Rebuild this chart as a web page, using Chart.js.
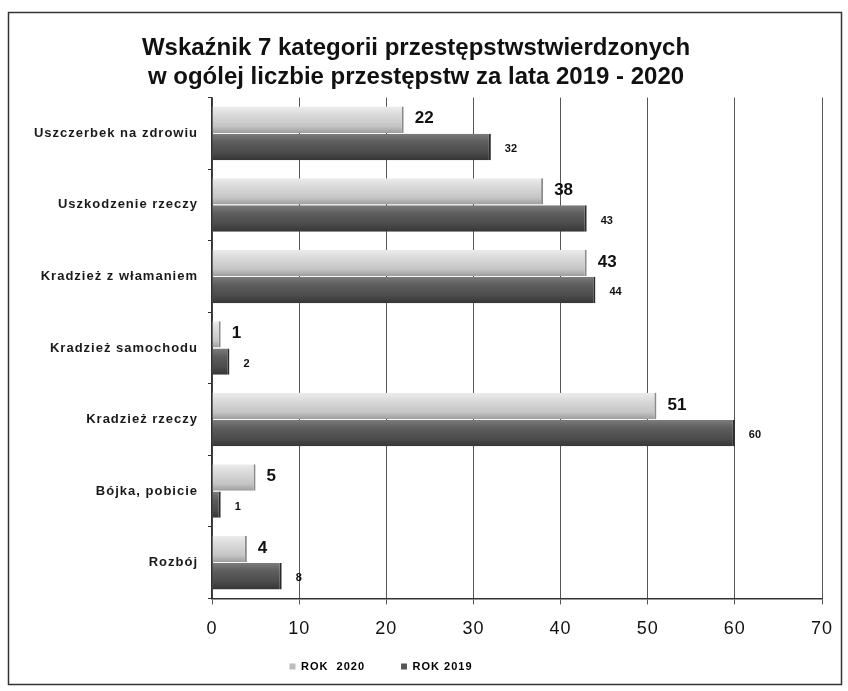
<!DOCTYPE html>
<html lang="pl">
<head>
<meta charset="utf-8">
<title>Wskaźnik 7 kategorii przestępstw</title>
<script src="https://cdn.jsdelivr.net/npm/chart.js@4.4.1/dist/chart.umd.min.js"></script>
<style>
  html, body { margin: 0; padding: 0; background: #ffffff; }
  #wrap { width: 848px; height: 691px; }
</style>
</head>
<body>
<div id="wrap"><canvas id="crimeChart" width="848" height="691"></canvas></div>
<script>
// Data
const categories = [
  "Uszczerbek na zdrowiu",
  "Uszkodzenie rzeczy",
  "Kradzież z włamaniem",
  "Kradzież samochodu",
  "Kradzież rzeczy",
  "Bójka, pobicie",
  "Rozbój"
];
const rok2020 = [22, 38, 43, 1, 51, 5, 4];
const rok2019 = [32, 43, 44, 2, 60, 1, 8];
const xTicks = [0, 10, 20, 30, 40, 50, 60, 70];
const seriesNames = ["ROK  2020", "ROK 2019"];

const sans = "'Liberation Sans', Arial, sans-serif";

const catPct = 0.76;
const barPct = 0.97;

// shaded "cylinder" look for each bar, worked out from the y scale
function barGradient(context, stops) {
  const chart = context.chart;
  const yScale = chart.scales.y;
  if (!yScale || yScale.bottom === undefined) return stops[1][1];
  const catWidth = (yScale.bottom - yScale.top) / categories.length;
  const groupW = catWidth * catPct;
  const slot = groupW / 2;
  const center = yScale.getPixelForValue(context.dataIndex) - groupW / 2 + (context.datasetIndex + 0.5) * slot;
  const half = slot * barPct / 2;
  const g = chart.ctx.createLinearGradient(0, center - half, 0, center + half);
  stops.forEach(s => g.addColorStop(s[0], s[1]));
  return g;
}

const lightStops = [[0, "#ececec"], [0.35, "#d8d8d8"], [0.75, "#c4c4c4"], [1, "#9c9c9c"]];
const darkStops = [[0, "#7c7c7c"], [0.3, "#5e5e5e"], [0.7, "#4c4c4c"], [1, "#353535"]];

// the scan has loosely spaced labels; title keeps normal spacing
const spacing = {
  id: 'spacing',
  beforeUpdate(chart) { chart.ctx.letterSpacing = "1px"; },
  beforeDraw(chart) {
    chart.ctx.letterSpacing = "1px";
    const tb = chart.titleBlock;
    if (tb && !tb._patched) {
      const orig = tb.draw.bind(tb);
      tb.draw = function () {
        const c = chart.ctx;
        const prev = c.letterSpacing;
        c.letterSpacing = "0px";
        orig();
        c.letterSpacing = prev;
      };
      tb._patched = true;
    }
  }
};

// value labels at the bar ends (2020 large, 2019 small)
const valueLabels = {
  id: 'valueLabels',
  afterDatasetsDraw(chart) {
    const ctx = chart.ctx;
    ctx.save();
    ctx.letterSpacing = "0px";
    ctx.fillStyle = "#111";
    ctx.textBaseline = "middle";
    ctx.textAlign = "left";
    chart.data.datasets.forEach((ds, i) => {
      const meta = chart.getDatasetMeta(i);
      meta.data.forEach((bar, j) => {
        if (i === 0) {
          ctx.font = "bold 17px " + sans;
          ctx.fillText(ds.data[j], bar.x + 11, bar.y - 1);
        } else {
          ctx.font = "bold 11px " + sans;
          ctx.fillText(ds.data[j], bar.x + 14, bar.y + 2);
        }
      });
    });
    ctx.restore();
  }
};

// thin frame round the whole chart, as in the scan
const frame = {
  id: 'frame',
  afterDraw(chart) {
    const ctx = chart.ctx;
    ctx.save();
    ctx.strokeStyle = "#333";
    ctx.lineWidth = 1.5;
    ctx.strokeRect(8.5, 12.5, 833, 672);
    ctx.restore();
  }
};

// legend sits left of centre and a bit higher in the original
const legendShift = {
  id: 'legendShift',
  afterLayout(chart) {
    const lg = chart.legend;
    lg.left -= 35;
    lg.right -= 35;
    lg.top -= 29;
    lg.bottom -= 29;
  }
};

const ctx = document.getElementById('crimeChart').getContext('2d');
const crimeChart = new Chart(ctx, {
  type: 'bar',
  data: {
    labels: categories,
    datasets: [{
      label: seriesNames[0],
      data: rok2020,
      backgroundColor: c => barGradient(c, lightStops),
      borderColor: "#8a8a8a",
      borderWidth: { right: 2 },
      borderSkipped: false,
      categoryPercentage: catPct,
      barPercentage: barPct
    }, {
      label: seriesNames[1],
      data: rok2019,
      backgroundColor: c => barGradient(c, darkStops),
      borderColor: "#2a2a2a",
      borderWidth: { right: 2 },
      borderSkipped: false,
      categoryPercentage: catPct,
      barPercentage: barPct
    }]
  },
  options: {
    indexAxis: 'y',
    responsive: false,
    animation: false,
    layout: { padding: { left: 10, right: 26, top: 22, bottom: -20 } },
    scales: {
      x: {
        min: xTicks[0],
        max: xTicks[xTicks.length - 1],
        afterBuildTicks: scale => { scale.ticks = xTicks.map(v => ({ value: v })); },
        grid: { color: "#555", lineWidth: 1, tickLength: 6, drawTicks: true },
        border: { color: "#333", width: 1.5 },
        ticks: {
          color: "#111",
          font: { family: sans, size: 18 },
          padding: 14
        }
      },
      y: {
        afterFit: scale => { scale.width = 202; },
        grid: { drawOnChartArea: false, color: "#333", tickLength: 4 },
        border: { color: "#333", width: 1.5 },
        ticks: {
          color: "#1a1a1a",
          font: { family: sans, size: 13, weight: "bold" },
          padding: 10
        }
      }
    },
    plugins: {
      title: {
        display: true,
        text: ["Wskaźnik 7 kategorii przestępstwstwierdzonych", "w ogólej liczbie przestępstw za lata 2019 - 2020"],
        color: "#111",
        font: { family: sans, size: 24, weight: "bold", lineHeight: 1.2 },
        padding: { top: 12, bottom: 6 }
      },
      legend: {
        position: 'bottom',
        labels: {
          color: "#111",
          font: { family: sans, size: 11, weight: "bold" },
          boxWidth: 6,
          boxHeight: 6,
          padding: 36,
          generateLabels: chart => chart.data.datasets.map((ds, i) => ({
            text: ds.label,
            fillStyle: i === 0 ? "#bdbdbd" : "#555",
            strokeStyle: i === 0 ? "#bdbdbd" : "#555",
            lineWidth: 0,
            datasetIndex: i
          }))
        }
      },
      tooltip: { enabled: false }
    }
  },
  plugins: [spacing, valueLabels, frame, legendShift]
});
</script>
</body>
</html>
